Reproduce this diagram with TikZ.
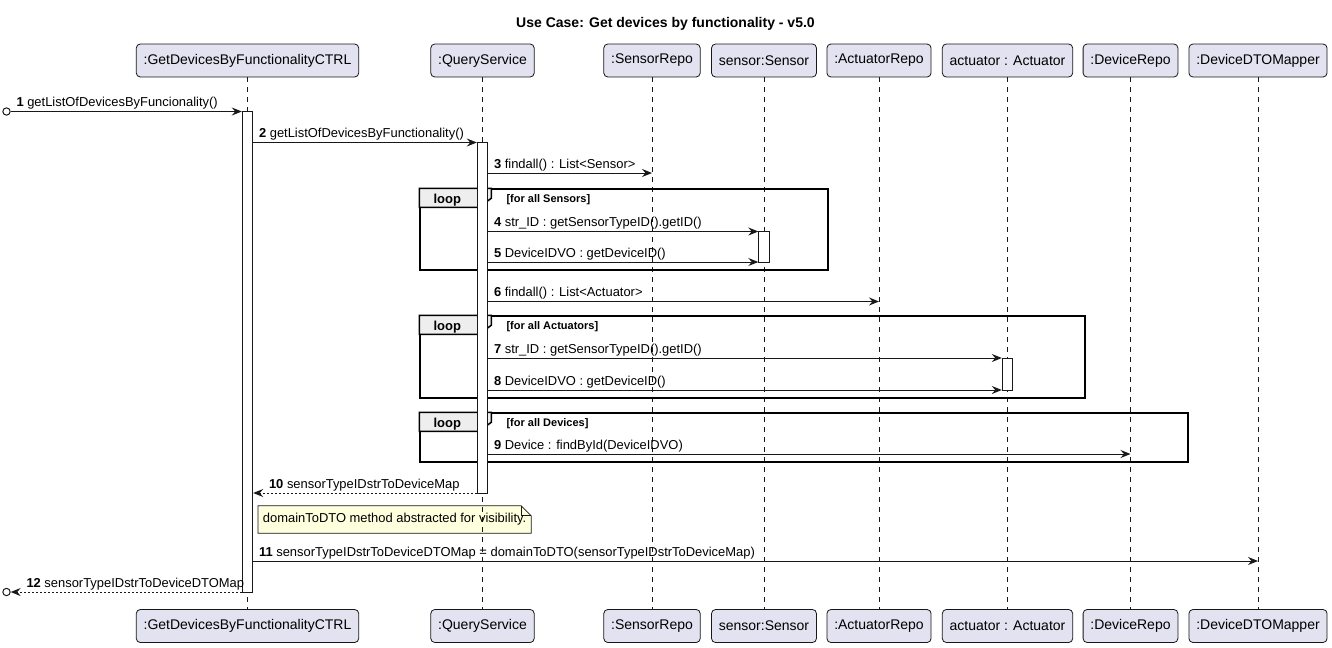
\documentclass[tikz,border=0pt]{standalone}
\usepackage{fontspec}
\setmainfont{Liberation Sans}
\usetikzlibrary{arrows.meta,fit,calc,backgrounds}
\definecolor{partfill}{RGB}{226,226,240}
\definecolor{umlline}{RGB}{24,24,24}
\definecolor{notefill}{RGB}{254,255,221}
\definecolor{tagfill}{RGB}{238,238,238}

\tikzset{
  participant/.style={draw=umlline,fill=partfill,rounded corners=3pt,line width=0.6pt,
    inner xsep=5.5pt,minimum height=24.75pt,font=\fontsize{10.5pt}{12pt}\selectfont},
  lifeline/.style={draw=umlline,line width=0.5pt,dash pattern=on 3.75pt off 3.75pt},
  activation/.style={draw=umlline,fill=white,line width=0.75pt,inner xsep=3.9pt,inner ysep=0pt},
  msg/.style={draw=umlline,line width=0.75pt,-{Stealth[length=7.5pt,width=6pt,inset=2.6pt]}},
  reply/.style={msg,dash pattern=on 1.5pt off 1.5pt},
  msglabel/.style={anchor=base west,inner sep=0pt,xshift=4pt,yshift=3.6pt,
    font=\fontsize{9.7pt}{11.6pt}\selectfont},
  replylabel/.style={msglabel,xshift=7.5pt},
  endpoint/.style={circle,draw=umlline,fill=white,line width=0.75pt,inner sep=0pt,minimum size=5.5pt},
  loopframe/.style={draw=black,line width=1.1pt,inner sep=0pt},
  looptag/.style={draw=black,fill=tagfill,line width=1.1pt},
  looptext/.style={anchor=base,inner sep=0pt,font=\bfseries\fontsize{9.75pt}{11.7pt}\selectfont},
  guardtext/.style={anchor=base west,inner sep=0pt,font=\bfseries\fontsize{8.25pt}{10pt}\selectfont},
  notetext/.style={anchor=west,inner xsep=3.5pt,minimum height=20.25pt,
    font=\fontsize{9.7pt}{11.6pt}\selectfont},
  titletext/.style={font=\bfseries\fontsize{10.5pt}{12.6pt}\selectfont}
}

% loop header: frame node, guard
\newcommand{\looptag}[2]{%
  \filldraw[looptag] (#1.north west) -- ++(72,0) -- ++(0,10) -- ++(-12,9) -- ++(-60,0) -- cycle;
  \node[looptext] at ($(#1.north west)+(28,15)$) {loop};
  \node[guardtext] at ($(#1.north west)+(87,14)$) {#2};
}

\begin{document}
\begin{tikzpicture}[x=0.75pt,y=-0.75pt]
\useasboundingbox (0,0) rectangle (1332,647);
\begin{pgfonlayer}{background}
\fill[white] (0,0) rectangle (1332,647);
\end{pgfonlayer}

\node[titletext] (title) at (665.5,24) {Use Case: Get devices by functionality - v5.0};

% participants, top and bottom, with lifelines
\foreach \name/\x/\txt in {ctrl/247.5/{:GetDevicesByFunctionalityCTRL},qs/482.5/{:QueryService},
    srepo/652/{:SensorRepo},sensor/764/{sensor:Sensor},arepo/879/{:ActuatorRepo},
    actuator/1007.5/{actuator : Actuator},drepo/1130.5/{:DeviceRepo},mapper/1258/{:DeviceDTOMapper}}{
  \node[participant] (\name) at (\x,60.5) {\txt};
  \node[participant] (\name-b) at (\x,626) {\txt};
  \draw[lifeline] (\name) -- (\name-b);
}

% message rows
\foreach \i/\y in {1/111.5,2/142.5,3/173,4/231.5,5/262,6/301.5,7/358,8/390,9/454,10/493,11/561,12/592}
  \coordinate (m\i) at (0,\y);

% loops
\node[loopframe,fit={(420,189) (828,270)}] (loopS) {};
\looptag{loopS}{[for all Sensors]}
\node[loopframe,fit={(420,316) (1085,398)}] (loopA) {};
\looptag{loopA}{[for all Actuators]}
\node[loopframe,fit={(420,413) (1188,462)}] (loopD) {};
\looptag{loopD}{[for all Devices]}

% activations
\node[activation,fit={(ctrl |- m1) (ctrl |- m12)}] (ctrlA) {};
\node[activation,fit={(qs |- m2) (qs |- m10)}] (qsA) {};
\node[activation,fit={(sensor |- m4) (sensor |- m5)}] (sensorA) {};
\node[activation,fit={(actuator |- m7) (actuator |- m8)}] (actuatorA) {};

\node[endpoint] (found) at (6.5,111.5) {};
\node[endpoint] (lost) at (6.5,592) {};

% messages
\draw[msg] (found) -- (ctrlA.west |- m1)
  node[msglabel,pos=0] (l1) {\textbf{1} getListOfDevicesByFuncionality()};
\draw[msg] (ctrlA.east |- m2) -- (qsA.west |- m2)
  node[msglabel,pos=0] (l2) {\textbf{2} getListOfDevicesByFunctionality()};
\draw[msg] (qsA.east |- m3) -- (srepo |- m3)
  node[msglabel,pos=0] (l3) {\textbf{3} findall() : List<Sensor>};
\draw[msg] (qsA.east |- m4) -- (sensorA.west |- m4)
  node[msglabel,pos=0] (l4) {\textbf{4} str\_ID : getSensorTypeID().getID()};
\draw[msg] (qsA.east |- m5) -- (sensorA.west |- m5)
  node[msglabel,pos=0] (l5) {\textbf{5} DeviceIDVO : getDeviceID()};
\draw[msg] (qsA.east |- m6) -- (arepo |- m6)
  node[msglabel,pos=0] (l6) {\textbf{6} findall() : List<Actuator>};
\draw[msg] (qsA.east |- m7) -- (actuatorA.west |- m7)
  node[msglabel,pos=0] (l7) {\textbf{7} str\_ID : getSensorTypeID().getID()};
\draw[msg] (qsA.east |- m8) -- (actuatorA.west |- m8)
  node[msglabel,pos=0] (l8) {\textbf{8} DeviceIDVO : getDeviceID()};
\draw[msg] (qsA.east |- m9) -- (drepo |- m9)
  node[msglabel,pos=0] (l9) {\textbf{9} Device : findById(DeviceIDVO)};
\draw[reply] (qsA.west |- m10) -- (ctrlA.east |- m10)
  node[replylabel,pos=1] (l10) {\textbf{10} sensorTypeIDstrToDeviceMap};

% note
\node[notetext] (note) at (258,519.5) {domainToDTO method abstracted for visibility.};
\begin{pgfonlayer}{background}
\filldraw[draw=umlline,fill=notefill,line width=0.5pt] (note.north west) -- ([xshift=-7.5pt]note.north east)
  -- ([yshift=-7.5pt]note.north east) -- (note.south east) -- (note.south west) -- cycle;
\draw[umlline,line width=0.5pt] ([xshift=-7.5pt]note.north east) |- ([yshift=-7.5pt]note.north east);
\end{pgfonlayer}

\draw[msg] (ctrlA.east |- m11) -- (mapper |- m11)
  node[msglabel,pos=0] (l11) {\textbf{11} sensorTypeIDstrToDeviceDTOMap = domainToDTO(sensorTypeIDstrToDeviceMap)};
\draw[reply] (ctrlA.west |- m12) -- (lost)
  node[replylabel,pos=1] (l12) {\textbf{12} sensorTypeIDstrToDeviceDTOMap};
\end{tikzpicture}
\end{document}
